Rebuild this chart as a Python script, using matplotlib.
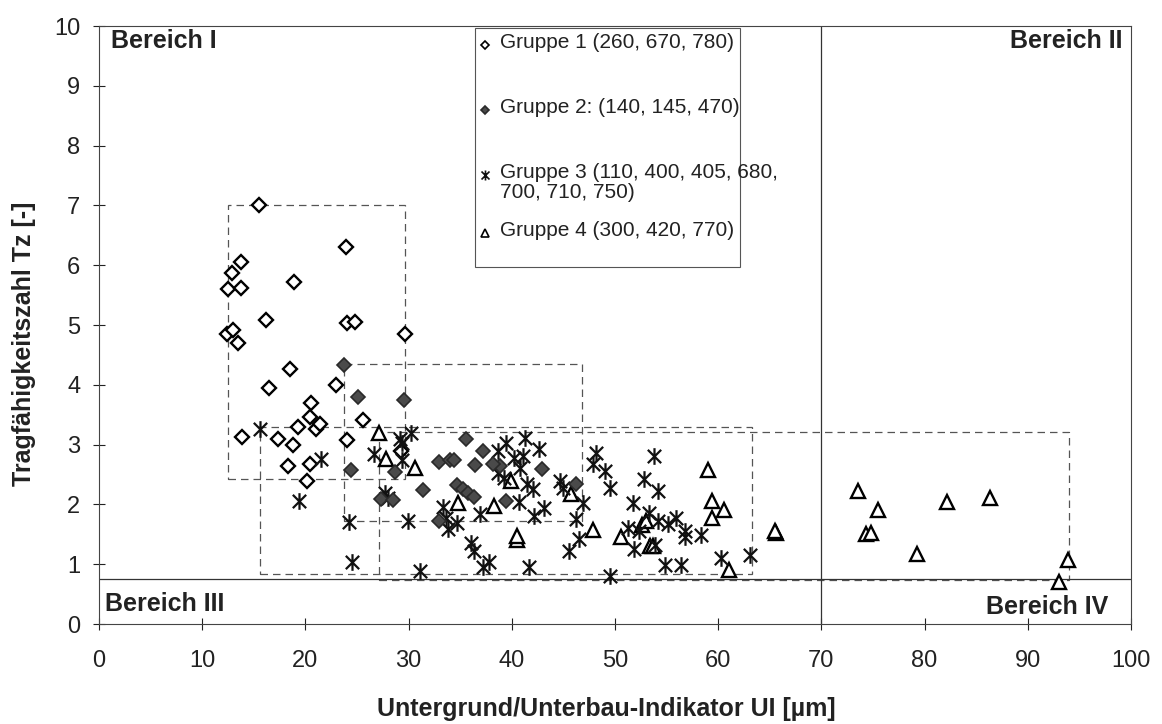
import matplotlib
matplotlib.use("Agg")
import matplotlib.pyplot as plt
from matplotlib.patches import Rectangle
from matplotlib.path import Path

plt.rcParams['font.family'] = ['Liberation Sans', 'DejaVu Sans']

# --- data ---
g1_x = [15.5, 23.9, 13.8, 12.9, 12.5, 13.8, 18.9, 16.2, 24.0, 24.8, 12.4, 13.0, 13.5,
        29.7, 18.5, 16.5, 23.0, 20.5, 20.4, 19.3, 21.0, 21.4, 13.9, 17.3, 18.8, 24.0,
        25.6, 18.3, 20.4, 20.2, 29.3]
g1_y = [7.0, 6.3, 6.06, 5.87, 5.6, 5.62, 5.72, 5.08, 5.03, 5.05, 4.85, 4.92, 4.7,
        4.85, 4.27, 3.95, 4.0, 3.69, 3.46, 3.29, 3.26, 3.34, 3.13, 3.1, 3.0, 3.08,
        3.42, 2.64, 2.68, 2.39, 2.9]

g2_x = [23.7, 25.1, 29.6, 35.6, 37.2, 32.9, 34.0, 34.4, 36.4, 38.9, 42.9, 24.4, 28.7,
        31.4, 34.7, 35.3, 35.8, 36.3, 39.4, 27.3, 28.5, 46.2, 32.9, 38.2]
g2_y = [4.33, 3.8, 3.75, 3.1, 2.9, 2.71, 2.74, 2.74, 2.66, 2.64, 2.6, 2.57, 2.54,
        2.25, 2.33, 2.26, 2.2, 2.12, 2.06, 2.1, 2.07, 2.34, 1.72, 2.67]

g3_x = [15.6, 21.5, 19.4, 24.2, 24.5, 30.2, 29.2, 29.4, 26.6, 29.4, 39.4, 41.3, 42.6,
        38.7, 40.2, 41.1, 40.8, 38.7, 39.2, 41.5, 42.1, 44.7, 45.0, 27.7, 28.0, 40.7,
        43.1, 42.2, 46.9, 46.2, 33.3, 33.6, 34.7, 33.8, 36.9, 29.9, 36.0, 36.3, 37.8,
        37.2, 41.7, 31.1, 46.5, 45.5, 48.2, 47.9, 49.0, 49.5, 53.8, 52.8, 54.2, 51.7,
        53.3, 54.2, 55.9, 55.1, 56.8, 56.8, 58.3, 51.3, 52.3, 51.8, 53.9, 54.8, 56.4,
        60.3, 63.1, 49.5]
g3_y = [3.27, 2.76, 2.06, 1.7, 1.03, 3.2, 3.1, 3.02, 2.85, 2.75, 3.02, 3.11, 2.92,
        2.89, 2.77, 2.81, 2.61, 2.52, 2.44, 2.34, 2.26, 2.39, 2.28, 2.2, 2.11, 2.04,
        1.94, 1.81, 2.03, 1.76, 1.95, 1.78, 1.69, 1.59, 1.84, 1.72, 1.36, 1.23, 1.03,
        0.95, 0.95, 0.88, 1.43, 1.23, 2.86, 2.67, 2.56, 2.28, 2.81, 2.42, 2.23, 2.03,
        1.86, 1.73, 1.78, 1.68, 1.55, 1.45, 1.49, 1.61, 1.56, 1.26, 1.33, 0.98, 0.98,
        1.1, 1.15, 0.81]

g4_x = [27.1, 27.8, 30.6, 39.9, 34.8, 38.3, 40.5, 40.5, 45.7, 47.9, 50.6, 52.6, 53.0,
        53.4, 53.7, 59.0, 59.4, 60.6, 59.4, 61.0, 65.6, 65.5, 73.5, 75.5, 74.3, 74.8,
        79.3, 82.2, 86.3, 93.9, 93.0]
g4_y = [3.2, 2.76, 2.61, 2.39, 2.03, 1.97, 1.4, 1.48, 2.17, 1.58, 1.46, 1.66, 1.73,
        1.31, 1.3, 2.57, 2.06, 1.91, 1.78, 0.9, 1.53, 1.56, 2.23, 1.91, 1.51, 1.53,
        1.18, 2.04, 2.11, 1.08, 0.7]

# dashed range boxes per group: (x_min, x_max, y_min, y_max)
boxes = [(12.5, 29.7, 2.42, 7.0),
         (23.7, 46.8, 1.72, 4.35),
         (15.6, 63.3, 0.84, 3.29),
         (27.1, 94.0, 0.74, 3.21)]

ui_limit = 70      # Bereich boundary on x
tz_limit = 0.75    # Bereich boundary on y

labels = ["Gruppe 1 (260, 670, 780)",
          "Gruppe 2: (140, 145, 470)",
          "Gruppe 3 (110, 400, 405, 680,\n700, 710, 750)",
          "Gruppe 4 (300, 420, 770)"]

# Excel style asterisk: an X with a vertical bar through it
star = Path([(0, -1), (0, 1), (-0.8, -0.8), (0.8, 0.8), (-0.8, 0.8), (0.8, -0.8)],
            [Path.MOVETO, Path.LINETO] * 3)

# --- figure ---
fig = plt.figure(figsize=(11.62, 7.24), dpi=100)
ax = fig.add_axes([0.0852, 0.138, 0.8881, 0.826])

for x0, x1, y0, y1 in boxes:
    ax.add_patch(Rectangle((x0, y0), x1 - x0, y1 - y0, fill=False,
                           edgecolor="#555555", lw=0.9, linestyle=(0, (6, 4))))

ax.axvline(ui_limit, color="#333333", lw=0.9)
ax.axhline(tz_limit, color="#333333", lw=0.9)

st1 = dict(marker="D", ms=7, mfc="white", mec="black", mew=1.7, ls="none")
st2 = dict(marker="D", ms=7.5, mfc="#4a4a4a", mec="#2a2a2a", mew=1.2, ls="none")
st3 = dict(marker=star, ms=12, mec="#111111", mew=1.6, ls="none")
st4 = dict(marker="^", ms=10, mfc="white", mec="black", mew=1.7, ls="none")

ax.plot(g1_x, g1_y, **st1)
ax.plot(g4_x, g4_y, **st4)
ax.plot(g3_x, g3_y, **st3)
ax.plot(g2_x, g2_y, **st2)

ax.set_xlim(0, 100)
ax.set_ylim(0, 10)
ax.set_xticks(range(0, 101, 10))
ax.set_yticks(range(0, 11))
ax.tick_params(axis="both", direction="inout", length=9, width=0.8,
               labelsize=17, colors="#222222")
ax.tick_params(axis="x", pad=14)
ax.tick_params(axis="y", pad=9)
for s in ax.spines.values():
    s.set_color("#444444")
    s.set_linewidth(0.8)

ax.set_xlabel("Untergrund/Unterbau-Indikator UI [µm]", fontsize=18, fontweight="bold",
              color="#222222")
ax.set_ylabel("Tragfähigkeitszahl Tz [-]", fontsize=18, fontweight="bold", color="#222222")
ax.xaxis.set_label_coords(0.492, -0.122)
ax.yaxis.set_label_coords(-0.061, 0.468)

bt = dict(fontsize=18, fontweight="bold", color="#222222")
ax.text(1.2, 9.95, "Bereich I", ha="left", va="top", **bt)
ax.text(99.2, 9.95, "Bereich II", ha="right", va="top", **bt)
ax.text(0.6, 0.33, "Bereich III", ha="left", va="center", **bt)
ax.text(97.8, 0.28, "Bereich IV", ha="right", va="center", **bt)

# legend box, laid out like the original
ax.add_patch(Rectangle((0.364, 0.597), 0.257, 0.40, transform=ax.transAxes,
                       fill=False, edgecolor="#555555", lw=0.8))
leg_y = [0.968, 0.860, 0.751, 0.654]
for st, lab, ly in zip([st1, st2, st3, st4], labels, leg_y):
    small = dict(st)
    small["ms"] = st["ms"] * 0.6
    small["mew"] = 1.2
    ax.plot([0.374], [ly], transform=ax.transAxes, clip_on=False, **small)
    ax.text(0.389, ly + 0.02, lab, transform=ax.transAxes, ha="left", va="top",
            fontsize=15, color="#222222", linespacing=1.05)

fig.savefig("out.png", dpi=100)
